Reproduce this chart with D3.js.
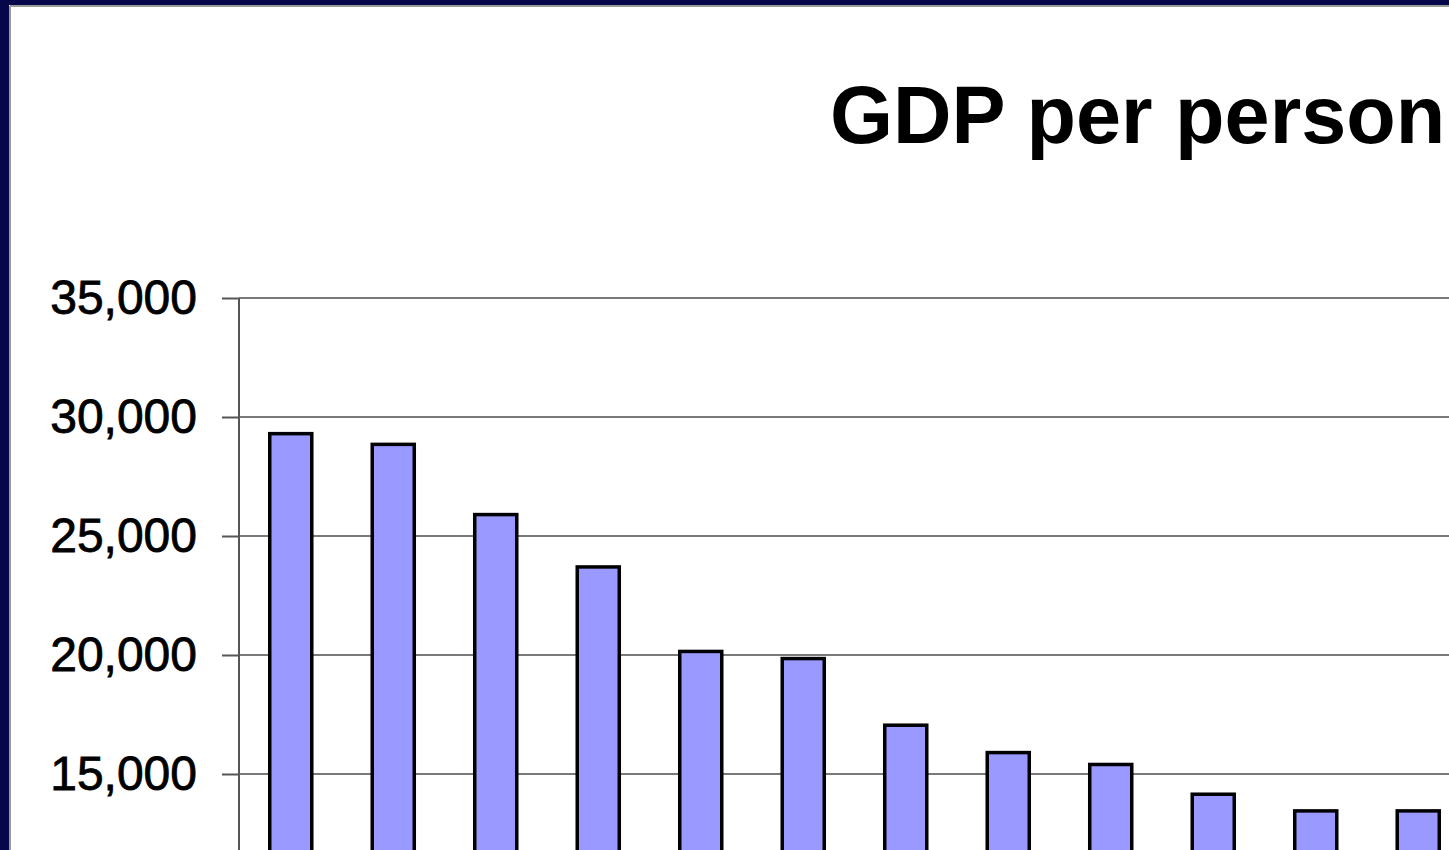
<!DOCTYPE html>
<html>
<head>
<meta charset="utf-8">
<script src="https://cdn.jsdelivr.net/npm/d3@7"></script>
<style>
  html, body { margin: 0; padding: 0; background: #fff; }
  svg { display: block; }
</style>
</head>
<body>
<svg id="chart" width="1449" height="850"></svg>
<script>
// GDP per person, ranked from highest to lowest
const categories = ["C1", "C2", "C3", "C4", "C5", "C6", "C7", "C8", "C9", "C10", "C11", "C12"];
const gdpPerPerson = [29300, 28850, 25900, 23700, 20150, 19850, 17050, 15900, 15400, 14150, 13450, 13450];
const yTicks = [15000, 20000, 25000, 30000, 35000];
const titleText = "GDP per person";

const svg = d3.select("#chart");
const W = 1449, H = 850;

// slide frame: dark navy edge on the left and top
svg.append("rect").attr("x", 0).attr("y", 0).attr("width", W).attr("height", H).attr("fill", "#ffffff");
svg.append("rect").attr("x", 0).attr("y", 0).attr("width", W).attr("height", 5).attr("fill", "#06064a");
svg.append("rect").attr("x", 0).attr("y", 0).attr("width", 9).attr("height", H).attr("fill", "#06064a");
svg.append("line").attr("x1", 10).attr("x2", W).attr("y1", 6).attr("y2", 6)
  .attr("stroke", "#9a9a9a").attr("stroke-width", 2);
svg.append("line").attr("x1", 10).attr("x2", 10).attr("y1", 6).attr("y2", H)
  .attr("stroke", "#9a9a9a").attr("stroke-width", 2);

// title
svg.append("text")
  .attr("x", 830).attr("y", 143)
  .attr("font-family", "'Liberation Sans', Arial, sans-serif")
  .attr("font-weight", "bold")
  .attr("font-size", 81)
  .attr("fill", "#000")
  .text(titleText);

// scales
const axisX = 239;
const y = d3.scaleLinear().domain([0, 35000]).range([1131, 298]);
const x = d3.scaleBand()
  .domain(categories)
  .range([axisX, 1470])
  .paddingInner(0.59)
  .paddingOuter(0.30);

// horizontal gridlines across the plot
svg.append("g")
  .selectAll("line")
  .data(yTicks)
  .join("line")
  .attr("x1", axisX).attr("x2", W)
  .attr("y1", d => y(d)).attr("y2", d => y(d))
  .attr("stroke", "#7a7a7a")
  .attr("stroke-width", 2);

// y axis with outside ticks and comma-formatted labels
const yAxis = d3.axisLeft(y)
  .tickValues(yTicks)
  .tickFormat(d3.format(","))
  .tickSize(17)
  .tickPadding(25);

const gAxis = svg.append("g")
  .attr("transform", `translate(${axisX},0)`)
  .call(yAxis);
gAxis.select(".domain").remove();
gAxis.selectAll(".tick line").attr("stroke", "#555").attr("stroke-width", 2);
gAxis.selectAll(".tick text")
  .attr("font-family", "'Liberation Sans', Arial, sans-serif")
  .attr("font-size", 48)
  .attr("fill", "#000")
  .attr("stroke", "#000")
  .attr("stroke-width", 0.8);

// vertical axis line
svg.append("line")
  .attr("x1", axisX).attr("x2", axisX)
  .attr("y1", y(35000)).attr("y2", H)
  .attr("stroke", "#555")
  .attr("stroke-width", 2);

// bars
svg.append("g")
  .selectAll("rect")
  .data(gdpPerPerson.map((v, i) => ({ c: categories[i], v })))
  .join("rect")
  .attr("x", d => x(d.c))
  .attr("y", d => y(d.v))
  .attr("width", x.bandwidth())
  .attr("height", d => y(0) - y(d.v))
  .attr("fill", "#9999ff")
  .attr("stroke", "#000")
  .attr("stroke-width", 3.5);
</script>
</body>
</html>
